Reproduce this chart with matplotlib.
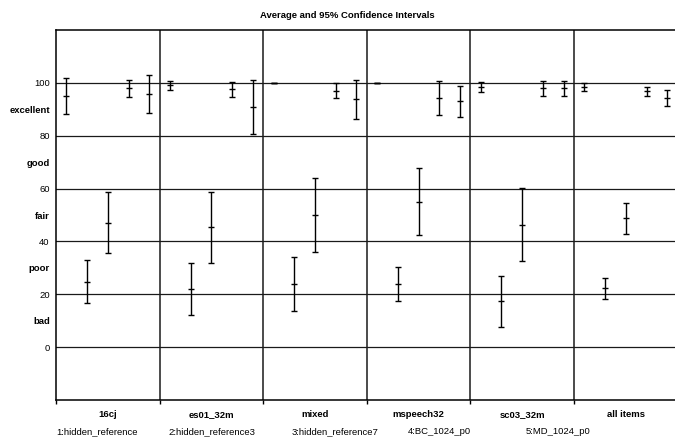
import matplotlib
matplotlib.use("Agg")
import matplotlib.pyplot as plt
import numpy as np

plt.rcParams['font.family'] = ['Liberation Sans', 'DejaVu Sans']

categories = ["16cj", "es01_32m", "mixed", "mspeech32", "sc03_32m", "all items"]
systems = ["1:hidden_reference", "2:hidden_reference3", "3:hidden_reference7",
           "4:BC_1024_p0", "5:MD_1024_p0"]

# means per system across categories
mean_hr = [95.1, 99.1, 100.0, 100.0, 98.5, 98.5]
mean_hr3 = [24.8, 22.0, 23.9, 23.9, 17.4, 22.2]
mean_hr7 = [47.1, 45.3, 50.0, 55.0, 46.3, 48.7]
mean_bc = [97.9, 97.5, 97.0, 94.4, 97.9, 96.8]
mean_md = [95.7, 90.9, 93.8, 93.0, 97.9, 94.2]

# 95% CI half widths
ci_hr = [6.8, 1.7, 0.0, 0.0, 1.9, 1.6]
ci_hr3 = [8.1, 10.0, 10.3, 6.3, 9.7, 3.9]
ci_hr7 = [11.5, 13.4, 14.0, 12.7, 13.8, 5.7]
ci_bc = [3.3, 3.0, 2.8, 6.4, 2.8, 1.7]
ci_md = [7.1, 10.3, 7.3, 6.0, 2.8, 3.1]

yticks = [0, 10, 20, 30, 40, 50, 60, 70, 80, 90, 100]
ytick_labels = ["0", "bad", "20", "poor", "40", "fair", "60", "good", "80", "excellent", "100"]

means = [mean_hr, mean_hr3, mean_hr7, mean_bc, mean_md]
cis = [ci_hr, ci_hr3, ci_hr7, ci_bc, ci_md]

W, H = 675, 437
fig = plt.figure(figsize=(W / 100, H / 100), dpi=100)
ax = fig.add_axes([56 / W, 1 - 400 / H, (677.6 - 56) / W, (400 - 30) / H])

n_sys = len(systems)
n_cat = len(categories)
for i in range(n_sys):
    x = np.arange(n_cat) + (i + 0.5) / n_sys
    ax.errorbar(x, means[i], yerr=cis[i], fmt='_', color='black', ms=5, mew=1.0,
                capsize=2.2, elinewidth=1.0, capthick=1.0, zorder=3)

for v in [0, 20, 40, 60, 80, 100]:
    ax.axhline(v, color='#1a1a1a', lw=0.9, zorder=1)
for k in range(1, n_cat):
    ax.axvline(k, color='#1a1a1a', lw=1.1, zorder=1)

ax.set_xlim(0, n_cat)
ax.set_ylim(-20, 120)
ax.set_xticks(range(0, n_cat + 1))
ax.set_xticklabels([])
ax.tick_params(axis='x', length=3, width=1.0, direction='out', color='black')
ax.set_yticks(yticks)
ax.set_yticklabels(ytick_labels, fontsize=6.8)
ax.tick_params(axis='y', length=0, pad=4.5)
for lbl, txt in zip(ax.get_yticklabels(), ytick_labels):
    if not txt.isdigit():
        lbl.set_fontweight('bold')

for s in ax.spines.values():
    s.set_linewidth(1.1)
    s.set_color('black')

for k, c in enumerate(categories):
    ax.text(k + 0.5, -0.04, c, transform=ax.get_xaxis_transform(), ha='center', va='center',
            fontsize=6.8, fontweight='bold')

legend_x = [56, 168, 292, 408, 526]
for sx, s in zip(legend_x, systems):
    fig.text(sx / W, 1 - 432 / H, s, ha='left', va='center', fontsize=6.8)

fig.text(347 / W, 1 - 15.5 / H, "Average and 95% Confidence Intervals", ha='center', va='center',
         fontsize=6.8, fontweight='bold')

fig.savefig("out.png", dpi=100)
